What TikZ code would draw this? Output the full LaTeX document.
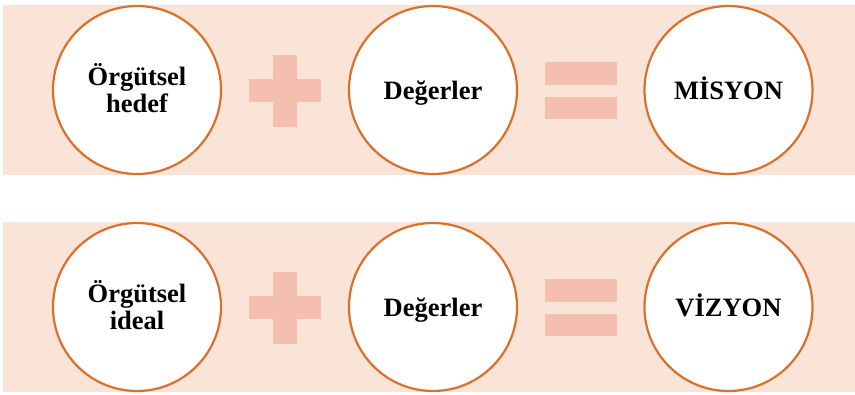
\documentclass[tikz,border=0pt]{standalone}
\usepackage{fontspec}
\setmainfont{Liberation Serif}
\definecolor{bandfill}{HTML}{FAE4D7}
\definecolor{signfill}{HTML}{F4BFAE}
\definecolor{ringline}{HTML}{D9702C}
\tikzset{
  band/.style={fill=bandfill, draw=none},
  sign/.style={fill=signfill, draw=none},
  ring/.style={circle, draw=ringline, line width=2.2pt, fill=white,
    minimum size=168pt, inner sep=0pt},
  word/.style={anchor=base, inner sep=0pt, align=center,
    font=\bfseries\fontsize{26.5}{27}\selectfont},
}
\begin{document}
\begin{tikzpicture}[x=1pt,y=-1pt]
  \useasboundingbox (0,0) rectangle (855,394);
  % background bands
  \fill[band] (3,5) rectangle (855,175);
  \fill[band] (3,222) rectangle (855,392);
  % first row: goal + values = mission
  \node[ring] (goal) at (137,90) {};
  \node[word] (goaltxt) at (137,112) {Örgütsel\\hedef};
  \fill[sign] (249,79) rectangle (321,102);
  \fill[sign] (273,55) rectangle (297,127);
  \node[ring] (val1) at (433,90) {};
  \node[word] (val1txt) at (433,99) {Değerler};
  \fill[sign] (545,62) rectangle (617,85);
  \fill[sign] (545,97) rectangle (617,119);
  \node[ring] (mis) at (728.5,90) {};
  \node[word] (mistxt) at (728.5,99) {MİSYON};
  % second row: ideal + values = vision
  \node[ring] (ideal) at (137,307) {};
  \node[word] (idealtxt) at (137,329) {Örgütsel\\ideal};
  \fill[sign] (249,296) rectangle (321,319);
  \fill[sign] (273,272) rectangle (297,344);
  \node[ring] (val2) at (433,307) {};
  \node[word] (val2txt) at (433,316) {Değerler};
  \fill[sign] (545,279) rectangle (617,302);
  \fill[sign] (545,314) rectangle (617,336);
  \node[ring] (vis) at (728.5,307) {};
  \node[word] (vistxt) at (728.5,316) {VİZYON};
\end{tikzpicture}
\end{document}
